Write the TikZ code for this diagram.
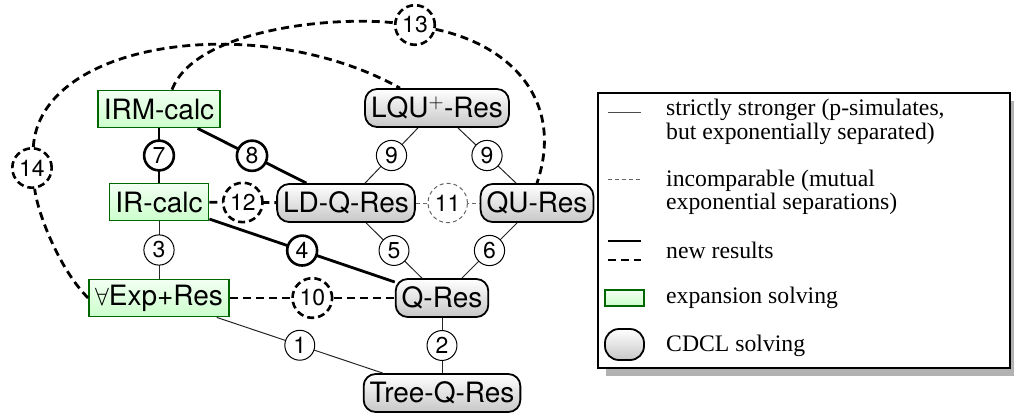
\documentclass[tikz,border=0pt]{standalone}
\usepackage{fontspec}
\setmainfont{Liberation Serif}
\setsansfont{TeX Gyre Heros}
\usetikzlibrary{calc}
\begin{document}
\begin{tikzpicture}[x=1pt,y=-1pt,
  nodefont/.style={font=\sffamily\fontsize{28}{30}\selectfont},
  cdcl/.style={nodefont, draw=black, line width=1.8pt, rounded corners=12pt,
    top color=white, bottom color=black!22, minimum height=38pt,
    inner xsep=6pt, inner ysep=0pt},
  expn/.style={nodefont, draw=green!40!black, line width=1.8pt,
    top color=green!5!white, bottom color=green!20!white, minimum height=37pt,
    inner xsep=6pt, inner ysep=0pt},
  lab/.style={circle, draw=black, fill=white, inner sep=3.3pt, solid,
    font=\sffamily\fontsize{23}{25}\selectfont, line width=1pt},
  labthick/.style={lab, line width=2.6pt},
  labdash/.style={lab, line width=2.6pt, dash pattern=on 7pt off 4pt},
  labthindash/.style={lab, draw=black!60, line width=1pt, dash pattern=on 4pt off 3pt},
  thinedge/.style={draw=black!85, line width=1pt},
  thickedge/.style={draw=black, line width=2.8pt},
  newdash/.style={draw=black, line width=2.8pt, dash pattern=on 8pt off 5pt},
  olddash/.style={draw=black!60, line width=1pt, dash pattern=on 4pt off 3pt},
  legtext/.style={inner sep=0pt, align=left, font=\fontsize{23.7}{23.5}\selectfont}
]
\useasboundingbox (0,0) rectangle (1014,413);

% proof systems
\node[expn] (IRM) at (159,109) {IRM-calc};
\node[expn] (IR) at (159,202) {IR-calc};
\node[expn] (EXP) at (159,298) {$\forall$Exp+Res};
\node[cdcl] (LQU) at (437,108) {LQU$^{+}$-Res};
\node[cdcl] (LDQ) at (346,203) {LD-Q-Res};
\node[cdcl] (QU) at (537,203) {QU-Res};
\node[cdcl] (QR) at (442,298) {Q-Res};
\node[cdcl] (TQ) at (442,393) {Tree-Q-Res};

% thin edges (strictly stronger)
\draw[thinedge] (EXP) -- node[lab, midway] (n1) {1} (TQ);
\draw[thinedge] (QR) -- node[lab, midway] (n2) {2} (TQ);
\draw[thinedge] (IR) -- node[lab, midway] (n3) {3} (EXP);
\draw[thinedge] (LDQ) -- node[lab, midway] (n5) {5} (QR);
\draw[thinedge] (QU) -- node[lab, midway] (n6) {6} (QR);
\draw[thinedge] (LQU) -- node[lab, midway] (n9a) {9} (LDQ);
\draw[thinedge] (LQU) -- node[lab, midway] (n9b) {9} (QU);

% new results (solid)
\draw[thickedge] (IR) -- node[labthick, midway] (n4) {4} (QR);
\draw[thickedge] (IRM) -- node[labthick, midway] (n7) {7} (IR);
\draw[thickedge] (IRM) -- node[labthick, midway] (n8) {8} (LDQ);

% incomparable
\draw[olddash] (LDQ) -- node[labthindash, midway] (n11) {11} (QU);
\draw[newdash] (EXP) -- node[labdash, midway] (n10) {10} (QR);
\draw[newdash] (IR) -- node[labdash, midway] (n12) {12} (LDQ);

% long dashed curves
\node[labdash] (n13) at (415,25) {13};
\node[labdash] (n14) at (32,168) {14};
\draw[newdash] ([xshift=13pt]IRM.north) .. controls (195,30) and (330,16) .. (n13);
\draw[newdash] (n13) .. controls (510,45) and (565,100) .. (QU.north);
\draw[newdash] (EXP.west) .. controls (60,270) and (38,215) .. (n14);
\draw[newdash] (n14) .. controls (40,40) and (260,10) .. ([xshift=-37pt]LQU.north);

% legend
\fill[black!30] (606,101) rectangle (1018,376);
\node[draw=black, line width=2pt, fill=white, minimum width=412pt, minimum height=275pt, inner sep=0pt] (legend) at (804,230.5) {};
\draw[draw=black!70, line width=1pt] (608,112) -- (641,112);
\draw[olddash] (608,179) -- (641,179);
\draw[thickedge] (608,241) -- (641,241);
\draw[newdash] (608,260) -- (641,260);
\draw[draw=green!40!black, line width=1.8pt, top color=green!5!white, bottom color=green!20!white] (605,290) rectangle (644,306);
\draw[draw=black, line width=1.8pt, rounded corners=14pt, top color=white, bottom color=black!22] (605,329) rectangle (644,360);
\node[legtext, anchor=west] (l1) at (666,121.7) {strictly stronger (p-simulates,\\but exponentially separated)};
\node[legtext, anchor=west] (l2) at (666,192.2) {incomparable (mutual\\exponential separations)};
\node[legtext, anchor=base west] (l3) at (666,258) {new results};
\node[legtext, anchor=base west] (l4) at (666,303) {expansion solving};
\node[legtext, anchor=base west] (l5) at (666,351) {CDCL solving};
\end{tikzpicture}
\end{document}
